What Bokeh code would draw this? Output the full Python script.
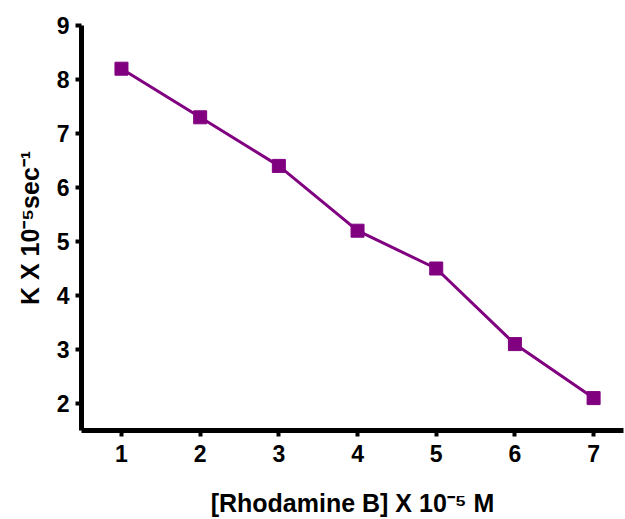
from bokeh.plotting import figure
from bokeh.models import Range1d, FixedTicker, ColumnDataSource
from bokeh.embed import file_html
from bokeh.resources import INLINE

# Data
concentration = [1, 2, 3, 4, 5, 6, 7]
k_values = [8.2, 7.3, 6.4, 5.2, 4.5, 3.1, 2.1]
x_ticks = [1, 2, 3, 4, 5, 6, 7]
y_ticks = [2, 3, 4, 5, 6, 7, 8, 9]
x_title = "[Rhodamine B] X 10\u207b\u2075 M"
y_title = "K X 10\u207b\u2075sec\u207b\u00b9"

FONT = "Liberation Sans"
PURPLE = "#800080"

p = figure(width=625, height=519, output_backend="svg", toolbar_location=None,
           x_range=Range1d(0.492, 7.38), y_range=Range1d(1.5, 9),
           min_border_left=81, min_border_right=2, min_border_top=25, min_border_bottom=85)
p.outline_line_color = None
p.grid.visible = False
p.background_fill_color = "white"

for ax in (p.xaxis[0], p.yaxis[0]):
    ax.axis_line_width = 5
    ax.axis_line_color = "black"
    ax.major_tick_line_width = 4
    ax.major_tick_out = 6
    ax.major_tick_in = 0
    ax.minor_tick_line_color = None
    ax.major_label_text_font = FONT
    ax.major_label_text_font_style = "bold"
    ax.major_label_text_font_size = "23px"
    ax.major_label_text_color = "black"
    ax.axis_label_text_font = FONT
    ax.axis_label_text_font_style = "bold"
    ax.axis_label_text_font_size = "25px"
    ax.axis_label_text_color = "black"

p.xaxis[0].ticker = FixedTicker(ticks=x_ticks)
p.yaxis[0].ticker = FixedTicker(ticks=y_ticks)
p.xaxis[0].major_label_standoff = 8
p.yaxis[0].major_label_standoff = 6
p.xaxis[0].axis_label = x_title
p.yaxis[0].axis_label = y_title
p.xaxis[0].axis_label_standoff = 24
p.yaxis[0].axis_label_standoff = 10

src = ColumnDataSource(data=dict(x=concentration, y=k_values))
p.line("x", "y", source=src, line_color=PURPLE, line_width=3)
p.scatter("x", "y", source=src, marker="square", size=13,
          fill_color=PURPLE, line_color=PURPLE)

open("out.html", "w").write(file_html(p, INLINE))
